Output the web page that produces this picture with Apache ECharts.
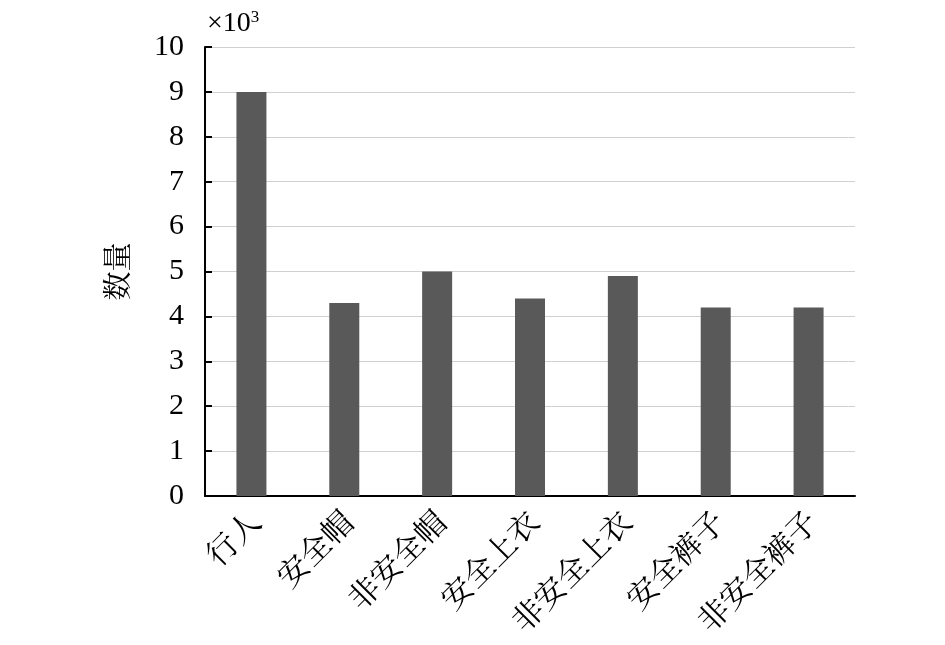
<!DOCTYPE html>
<html><head><meta charset="utf-8">
<script src="https://cdn.jsdelivr.net/npm/echarts@6/dist/echarts.min.js"></script>
<style>html,body{margin:0;padding:0;background:#fff}#c{width:945px;height:645px}</style>
</head><body><div id="c"></div>
<script>
const categories = ['行人','安全帽','非安全帽','安全上衣','非安全上衣','安全裤子','非安全裤子'];
const counts = [9.0, 4.3, 5.0, 4.4, 4.9, 4.2, 4.2];
const yTicks = {min: 0, max: 10, interval: 1};
const cjk = '"Liberation Serif","Noto Serif CJK SC","Noto Sans CJK SC",serif';
const chart = echarts.init(document.getElementById('c'));
chart.setOption({
  animation: false,
  backgroundColor: '#fff',
  title: {
    left: 202, top: 4,
    text: '{a|×10}{b|3}',
    textStyle: {
      fontWeight: 'normal',
      rich: {
        a: {fontFamily: '"Liberation Serif",serif', fontSize: 28, fontWeight: 'normal', color: '#000'},
        b: {fontFamily: '"Liberation Serif",serif', fontSize: 17, fontWeight: 'normal', color: '#000', verticalAlign: 'top', padding: [0,0,12,0]}
      }
    }
  },
  grid: {left: 205, right: 90, top: 47, bottom: 149, containLabel: false},
  xAxis: {
    type: 'category',
    data: categories,
    axisLine: {lineStyle: {color: '#000', width: 2}},
    axisTick: {show: false},
    axisLabel: {rotate: 45, fontSize: 31, color: '#000', fontFamily: cjk, margin: 28, padding: [0, -8, 0, 0], interval: 0}
  },
  yAxis: {
    type: 'value',
    min: yTicks.min, max: yTicks.max, interval: yTicks.interval,
    name: '数量',
    nameLocation: 'middle',
    nameGap: 70,
    nameRotate: 90,
    nameTextStyle: {fontSize: 29, color: '#000', fontFamily: cjk},
    axisLine: {show: true, lineStyle: {color: '#000', width: 2}},
    axisTick: {show: true, inside: true, length: 7, lineStyle: {color: '#000', width: 2}},
    axisLabel: {fontSize: 30, color: '#000', fontFamily: '"Liberation Serif",serif', margin: 21},
    splitLine: {show: true, lineStyle: {color: '#d0d0d0', width: 1}}
  },
  series: [{
    type: 'bar',
    data: counts,
    barWidth: 30,
    itemStyle: {color: '#595959'}
  }]
});
</script></body></html>
